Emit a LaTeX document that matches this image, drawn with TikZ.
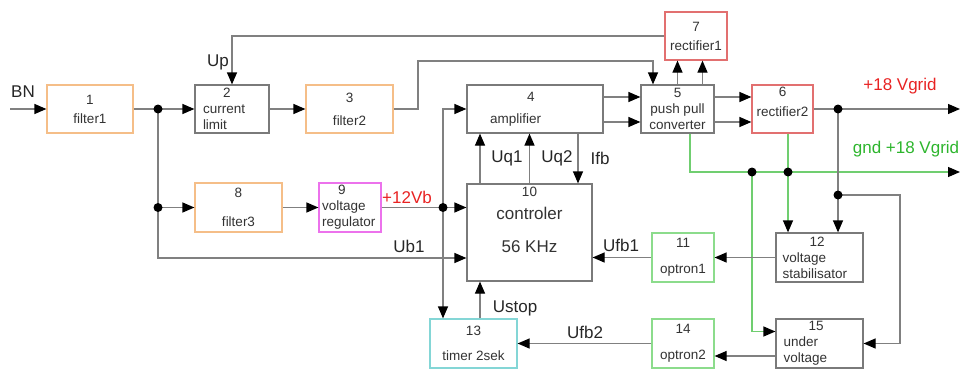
\documentclass[tikz,border=0pt]{standalone}
\usepackage{fontspec}
\setmainfont{Liberation Sans}
\usetikzlibrary{arrows.meta}
\definecolor{wiregray}{HTML}{808080}
\definecolor{boxgray}{HTML}{7A7A7A}
\definecolor{boxorange}{HTML}{F5BE88}
\definecolor{boxred}{HTML}{E27070}
\definecolor{boxmagenta}{HTML}{EC72EC}
\definecolor{boxcyan}{HTML}{84D6D6}
\definecolor{boxgreen}{HTML}{8CDC8C}
\definecolor{wiregreen}{HTML}{70CE70}
\definecolor{labred}{HTML}{E82222}
\definecolor{labgreen}{HTML}{2DB52D}
\newcommand{\boxfont}{\fontsize{13.5}{16}\selectfont}
\newcommand{\labfont}{\fontsize{17}{20}\selectfont}
\tikzset{
  blk/.style={draw=boxgray, fill=white, inner sep=0pt, align=center, font=\boxfont, text=black!80},
  wire/.style={draw=wiregray, -{Triangle[length=12pt,width=10pt,black]}},
  gwire/.style={wire, draw=wiregreen},
  lab/.style={font=\labfont, inner sep=0pt, text=black!85}
}
\begin{document}
\begin{tikzpicture}[x=1pt, y=-1pt, line width=1.2pt]
\useasboundingbox (0,0) rectangle (963,369);

% blocks, top row
\node[blk, draw=boxorange, minimum width=86, minimum height=48] (n1) at (90,109) {1\\[3pt]filter1};
\node[blk, minimum width=74, minimum height=48, text width=58pt, align=left] (n2) at (232,109) {\hspace*{20pt}2\\current\\limit};
\node[blk, draw=boxorange, minimum width=87, minimum height=48] (n3) at (349.5,109) {3\\[7pt]filter2};
\node[blk, minimum width=136, minimum height=48, text width=100pt, align=left] (n4) at (535,109) {\hspace*{42pt}4\\[6pt]\hspace*{5pt}amplifier};
\node[blk, minimum width=73, minimum height=48] (n5) at (677.5,109) {5\\push pull\\converter};
\node[blk, draw=boxred, minimum width=62, minimum height=48] (n7) at (696,36) {7\\[3pt]rectifier1};
\node[blk, draw=boxred, minimum width=61, minimum height=48] (n6) at (782.5,109) {6\\[4pt]rectifier2\\[-1pt]\mbox{}};

% blocks, middle row
\node[blk, draw=boxorange, minimum width=87, minimum height=49] (n8) at (238.5,207.5) {8\\[13pt]filter3};
\node[blk, draw=boxmagenta, minimum width=62, minimum height=49, text width=56pt, align=left] (n9) at (350,207.5) {\hspace*{16pt}9\\voltage\\regulator};
\node[blk, minimum width=125, minimum height=97, font=\labfont] (n10) at (529.5,232.5) {{\boxfont 10}\\[3pt]controler\\[13pt]56 KHz\\[6pt]\mbox{}};
\node[blk, draw=boxgreen, minimum width=62, minimum height=49] (n11) at (683,257.5) {11\\[10pt]optron1};
\node[blk, minimum width=87, minimum height=49, text width=74pt, align=left] (n12) at (819.5,257.5) {\hspace*{27pt}12\\voltage\\stabilisator};

% blocks, bottom row
\node[blk, draw=boxcyan, minimum width=87, minimum height=49] (n13) at (473.5,343.5) {13\\[9pt]timer 2sek};
\node[blk, draw=boxgreen, minimum width=62, minimum height=49] (n14) at (683,343.5) {14\\[10pt]optron2};
\node[blk, minimum width=87, minimum height=49, text width=72pt, align=left] (n15) at (819.5,343.5) {\hspace*{25pt}15\\under\\voltage};

% junctions and free ends
\coordinate (in) at (10,109);
\coordinate (j1) at (158,109);
\coordinate (j2) at (158,207.5);
\coordinate (j3) at (443,207.5);
\coordinate (j4) at (838,109);
\coordinate (j5) at (752,172);
\coordinate (j6) at (788,172);
\coordinate (j7) at (838,195);
\coordinate (c1) at (418,61);
\coordinate (c3) at (900,195);
\coordinate (out) at (960,109);
\coordinate (gout) at (960,172);
\coordinate (ub) at ([yshift=-25.5pt]n10.west);
\coordinate (pp) at ([xshift=-24.5pt]n5.north);
\coordinate (q1) at ([xshift=-49.5pt]n10.north);
\coordinate (q3) at ([xshift=48.5pt]n10.north);
\coordinate (r7) at ([xshift=25pt]n5.north);
\coordinate (g0) at ([xshift=12.5pt]n5.south);
\coordinate (r6) at ([xshift=5.5pt]n6.south);
\coordinate (st) at ([xshift=6.5pt]n13.north);

% input side
\draw[wire] (in) -- (n1.west);
\draw[wire] (n1.east) -- (n2.west);
\draw[wire] (j2) -- (n8.west);
\draw[wire] (j1) |- (ub);
\draw[wire] (n2.east) -- (n3.west);
\draw[wire] (n7.west) -| (n2.north);
\draw[wire] (n3.east) -| (c1) -| (pp);
\draw[wire] (n8.east) -- (n9.west);
\draw[wire] (n9.east) -- (n9.east -| n10.west);
\draw[wire] (j3) |- (n4.west);
\draw[wire] (j3) -- (j3 |- n13.north);

% controler and amplifier
\draw[wire] (q1) -- (q1 |- n4.south);
\draw[wire] (n10.north) -- (n10.north |- n4.south);
\draw[wire] (q3 |- n4.south) -- (q3);
\draw[wire] ([yshift=12pt]n4.east) -- ([yshift=12pt]n5.west);
\draw[wire] ([yshift=-13pt]n4.east) -- ([yshift=-13pt]n5.west);
\draw[wire] (st) -- (st |- n10.south);

% output side
\draw[wire] (n5.north) -- (n5.north |- n7.south);
\draw[wire] (r7) -- (r7 |- n7.south);
\draw[wire] ([yshift=12pt]n5.east) -- ([yshift=12pt]n6.west);
\draw[wire] ([yshift=-13pt]n5.east) -- ([yshift=-13pt]n6.west);
\draw[wire] (n6.east) -- (out);
\draw[gwire] (g0) |- (gout);
\draw[gwire] (r6) -- (r6 |- n12.north);
\draw[gwire] (j5) |- ([yshift=12pt]n15.west);
\draw[wire] (j4) -- (j4 |- n12.north);
\draw[wire] (j7) -- (c3) |- (n15.east);

% feedback
\draw[wire] (n12.west) -- (n11.east);
\draw[wire] (n11.west) -- (n11.west -| n10.east);
\draw[wire] ([yshift=-12.5pt]n15.west) -- ([yshift=-12.5pt]n15.west -| n14.east);
\draw[wire] (n14.west) -- (n14.west -| n13.east);

\foreach \d in {j1,j2,j3,j4,j5,j6,j7}
  \fill (\d) circle (4.5pt);

% labels
\node[lab] (lbn) at (23,92) {BN};
\node[lab] (lup) at (218,62) {Up};
\node[lab] (luq1) at (507,158) {Uq1};
\node[lab] (luq2) at (557,158) {Uq2};
\node[lab] (lifb) at (600,158) {Ifb};
\node[lab, text=labred] (l12) at (407,197) {+12Vb};
\node[lab] (lub1) at (409,246) {Ub1};
\node[lab] (lufb1) at (621,245) {Ufb1};
\node[lab] (lstop) at (515,308) {Ustop};
\node[lab] (lufb2) at (585,332) {Ufb2};
\node[lab, text=labred] (l18) at (900,86) {+18 Vgrid};
\node[lab, text=labgreen] (lgnd) at (906,149) {gnd +18 Vgrid};
\end{tikzpicture}
\end{document}
